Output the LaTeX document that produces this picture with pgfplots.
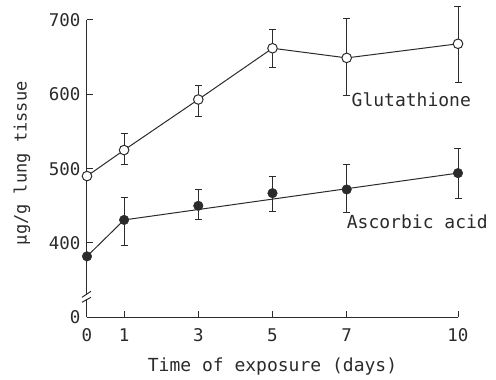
\documentclass[border=0pt]{standalone}
\usepackage{fontspec}
\setmainfont{DejaVu Sans Mono}
\usepackage{pgfplots}
\pgfplotsset{compat=1.18}
\definecolor{ink}{HTML}{2B2B2B}
\begin{document}
\begin{tikzpicture}
\path[use as bounding box] (-87pt,-62pt) rectangle (409pt,317.3pt);
\begin{axis}[
  at={(0,0)}, anchor=south west,
  scale only axis, width=371pt, height=297.3pt,
  xmin=0, xmax=10, ymin=300, ymax=700,
  axis x line=bottom, axis y line=left,
  axis line style={-, ink, line width=1pt},
  xtick={0,1,3,5,7,10},
  ytick={300,400,500,600,700},
  yticklabels={0,400,500,600,700},
  tick align=inside, major tick length=6pt,
  tick style={ink, line width=1pt},
  /pgf/number format/assume math mode=true,
  tick label style={font=\fontsize{17.5}{19}\selectfont, text=ink},
  xticklabel style={yshift=-8pt},
  yticklabel style={xshift=-3pt},
  xlabel={Time of exposure (days)},
  ylabel={µg/g lung tissue},
  label style={text=ink},
  xlabel style={font=\fontsize{18}{20}\selectfont, at={(axis description cs:0.5,-0.165)}, anchor=center},
  ylabel style={font=\fontsize{17}{19}\selectfont, at={(axis description cs:-0.175,0.518)}, anchor=center},
  clip=false,
  error bars/y dir=both, error bars/y explicit,
  error bars/error bar style={ink, line width=0.9pt},
  error bars/error mark options={rotate=90, mark size=3.5pt, line width=0.9pt, ink},
]
% Ascorbic acid line
\addplot[ink, line width=1pt, no marks] coordinates {(0,382) (1,431) (10,494)};
% Ascorbic acid points
\addplot[only marks, mark=*, mark size=4.8pt, mark options={fill=ink, draw=ink}]
  coordinates {
  (0,382) += (0,0) -= (0,0)
  (1,431) += (0,30) -= (0,34)
  (3,450) += (0,22) -= (0,19)
  (5,467) += (0,23) -= (0,24)
  (7,472) += (0,33) -= (0,31)
  (10,494) += (0,33) -= (0,34)
  };
% Glutathione
\addplot[ink, line width=1pt, mark=*, mark size=4.8pt, mark options={fill=white, draw=ink, line width=1pt}]
  coordinates {
  (0,490) += (0,0) -= (0,0)
  (1,525) += (0,22) -= (0,19)
  (3,593) += (0,19) -= (0,23)
  (5,662) += (0,25) -= (0,26)
  (7,649) += (0,53) -= (0,50)
  (10,668) += (0,50) -= (0,52)
  };
\node[anchor=west, text=ink, font=\fontsize{18}{20}\selectfont, inner sep=0pt] at (axis cs:7.13,593) {Glutathione};
\node[anchor=west, text=ink, font=\fontsize{18}{20}\selectfont, inner sep=0pt] at (axis cs:7.0,428) {Ascorbic acid};
% axis break
\fill[white] ([xshift=-1.5pt,yshift=-2.6pt]axis cs:0,327.6) rectangle ([xshift=1.5pt,yshift=2.6pt]axis cs:0,327.6);
\draw[ink, line width=1pt] ([xshift=-5pt,yshift=-0.5pt]axis cs:0,327.6) -- ([xshift=4pt,yshift=5.5pt]axis cs:0,327.6);
\draw[ink, line width=1pt] ([xshift=-5pt,yshift=-5.5pt]axis cs:0,327.6) -- ([xshift=4pt,yshift=-0.5pt]axis cs:0,327.6);
\end{axis}
\end{tikzpicture}
\end{document}
